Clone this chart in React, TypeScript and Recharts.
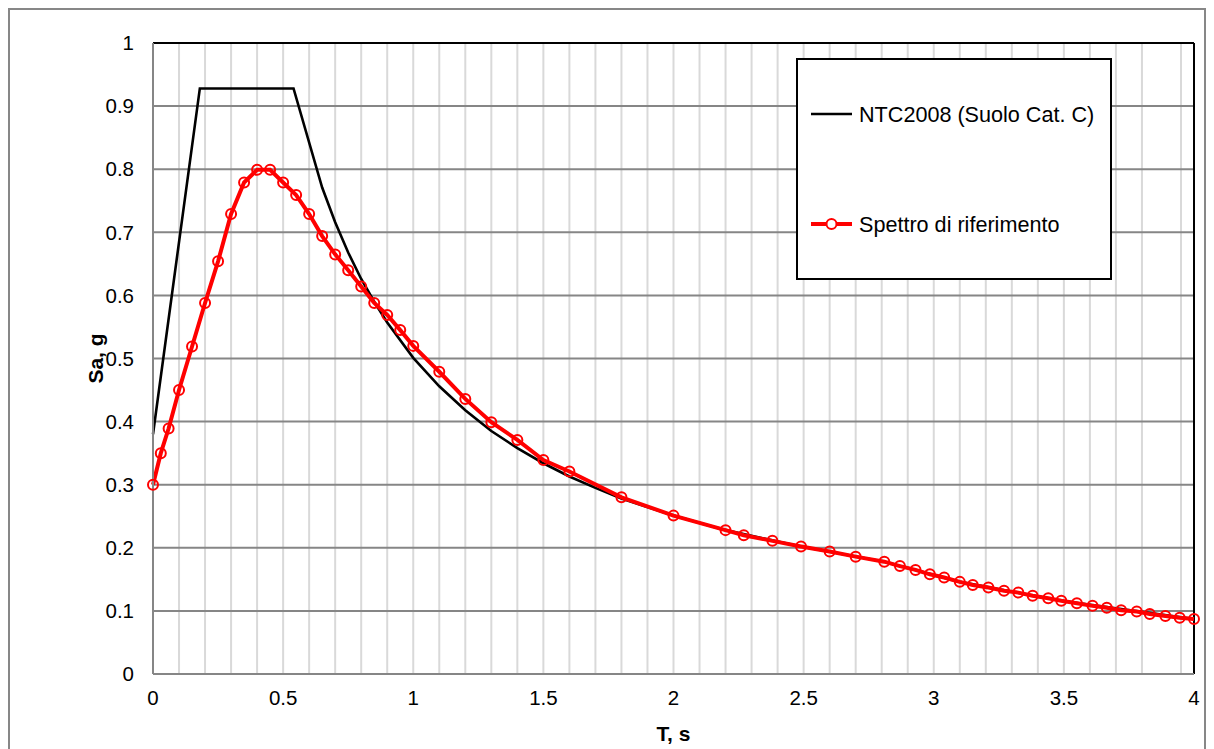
import React from 'react';
import { LineChart, Line, XAxis, YAxis, CartesianGrid, ReferenceLine, Legend, Label } from 'recharts';

const FONT = '"Liberation Sans", Arial, sans-serif';

// Reference spectrum (red, with markers)
const redT = [0, 0.03, 0.06, 0.1, 0.15, 0.2, 0.25, 0.3, 0.35, 0.4, 0.45, 0.5, 0.55, 0.6, 0.65, 0.7, 0.75, 0.8, 0.85, 0.9, 0.95, 1.0,
  1.1, 1.2, 1.3, 1.4, 1.5, 1.6, 1.8, 2.0, 2.2, 2.27, 2.38, 2.49, 2.6, 2.7, 2.81,
  2.87, 2.93, 2.985, 3.04, 3.1, 3.15, 3.21, 3.27, 3.325, 3.38, 3.44, 3.49, 3.55, 3.61, 3.665, 3.72, 3.78, 3.83, 3.89, 3.945, 4.0];
const redSa = [0.30, 0.35, 0.389, 0.45, 0.519, 0.588, 0.654, 0.729, 0.779, 0.799, 0.799, 0.779, 0.759, 0.729, 0.694, 0.665, 0.640, 0.614, 0.588, 0.569, 0.545, 0.520,
  0.479, 0.436, 0.399, 0.371, 0.339, 0.321, 0.280, 0.251, 0.228, 0.220, 0.211, 0.202, 0.194, 0.186, 0.178,
  0.171, 0.165, 0.158, 0.153, 0.146, 0.141, 0.137, 0.132, 0.129, 0.124, 0.120, 0.116, 0.112, 0.108, 0.105, 0.101, 0.099, 0.095, 0.092, 0.089, 0.087];

// NTC2008 (black)
const blackT = [0, 0.18, 0.54, 0.65, 0.7, 0.75, 0.8, 0.85, 0.9, 1.0, 1.1, 1.2, 1.3, 1.4, 1.5, 1.6, 1.7, 1.8, 2.0, 2.2, 2.49, 2.81, 3.1, 3.49, 4.0];
const blackSa = [0.38, 0.928, 0.928, 0.771, 0.716, 0.668, 0.626, 0.590, 0.557, 0.501, 0.456, 0.418, 0.385, 0.358, 0.334, 0.313, 0.295, 0.278, 0.251, 0.228, 0.202, 0.178, 0.146, 0.116, 0.087];

const xTicks = [0, 0.5, 1, 1.5, 2, 2.5, 3, 3.5, 4];
const yTicks = [0, 0.1, 0.2, 0.3, 0.4, 0.5, 0.6, 0.7, 0.8, 0.9, 1];
const minorX = [0.05, 0.1, 0.15, 0.2, 0.25, 0.3, 0.35, 0.4, 0.45, 0.5, 0.55, 0.6, 0.65, 0.7, 0.75, 0.8, 0.85, 0.9, 0.95, 1,
  1.05, 1.1, 1.15, 1.2, 1.25, 1.3, 1.35, 1.4, 1.45, 1.5, 1.55, 1.6, 1.65, 1.7, 1.75, 1.8, 1.85, 1.9, 1.95, 2,
  2.05, 2.1, 2.15, 2.2, 2.25, 2.3, 2.35, 2.4, 2.45, 2.5, 2.55, 2.6, 2.65, 2.7, 2.75, 2.8, 2.85, 2.9, 2.95, 3,
  3.05, 3.1, 3.15, 3.2, 3.25, 3.3, 3.35, 3.4, 3.45, 3.5, 3.55, 3.6, 3.65, 3.7, 3.75, 3.8, 3.85, 3.9, 3.95];

const seriesNames = ['NTC2008 (Suolo Cat. C)', 'Spettro di riferimento'];

const LegendBox = () => (
  <svg width={316} height={222} style={{ display: 'block' }}>
    <rect x={1} y={1} width={314} height={220} fill="#fff" stroke="#000" strokeWidth={2} />
    <line x1={15} x2={56} y1={56} y2={56} stroke="#000" strokeWidth={2.5} />
    <text x={63} y={56} dominantBaseline="central" fontSize={21.6} fontFamily={FONT} fill="#000">{seriesNames[0]}</text>
    <line x1={15} x2={56} y1={166} y2={166} stroke="#ff0000" strokeWidth={4} />
    <circle cx={35.5} cy={166} r={5} fill="#fff" stroke="#ff0000" strokeWidth={2} />
    <text x={63} y={166} dominantBaseline="central" fontSize={21.6} fontFamily={FONT} fill="#000">{seriesNames[1]}</text>
  </svg>
);

export default function App() {
  const redData = redT.map((t, i) => ({ t, sa: redSa[i] }));
  const blackData = blackT.map((t, i) => ({ t, sa: blackSa[i] }));
  const tickStyle = { fill: '#000', fontSize: 20.5, fontFamily: FONT };
  return (
    <div style={{ width: 1198, height: 745, border: '2px solid #878787', boxSizing: 'border-box', position: 'relative', background: '#fff' }}>
      <LineChart width={1194} height={741} margin={{ top: 33, right: 10, bottom: 0, left: 0 }}>
        <CartesianGrid horizontal={false} verticalValues={minorX} stroke="#d9d9d9" strokeWidth={2} />
        <CartesianGrid vertical={false} horizontalValues={yTicks.slice(1, 10)} stroke="#868686" strokeWidth={2} />
        <XAxis type="number" dataKey="t" domain={[0, 4]} ticks={xTicks} height={77} tickLine={false} tickSize={0} tickMargin={16}
          axisLine={{ stroke: '#868686', strokeWidth: 2 }} tick={tickStyle} allowDuplicatedCategory={false}>
          <Label content={(props: any) => {
            const vb = props.viewBox || {};
            return <text x={vb.x + vb.width / 2} y={vb.y + 59} textAnchor="middle" dominantBaseline="central" fontSize={21} fontWeight="bold" fontFamily={FONT} fill="#000">T, s</text>;
          }} />
        </XAxis>
        <YAxis type="number" domain={[0, 1]} ticks={yTicks} width={143} tickLine={false} tickSize={0} tickMargin={19}
          axisLine={{ stroke: '#868686', strokeWidth: 2 }} tick={tickStyle}>
          <Label content={(props: any) => {
            const vb = props.viewBox || {};
            const cx = 85;
            const cy = vb.y + vb.height / 2;
            return <text x={cx} y={cy} transform={`rotate(-90 ${cx} ${cy})`} textAnchor="middle" dominantBaseline="central" fontSize={21} fontWeight="bold" fontFamily={FONT} fill="#000">Sa, g</text>;
          }} />
        </YAxis>
        <ReferenceLine y={1} stroke="#000" strokeWidth={2} />
        <ReferenceLine x={4} stroke="#000" strokeWidth={2} />
        <Line data={blackData} dataKey="sa" name={seriesNames[0]} type="linear" stroke="#000" strokeWidth={2.6} dot={false} isAnimationActive={false} />
        <Line data={redData} dataKey="sa" name={seriesNames[1]} type="linear" stroke="#ff0000" strokeWidth={4}
          dot={{ r: 5, stroke: '#ff0000', strokeWidth: 2, fill: 'none' }} isAnimationActive={false} />
        <Legend layout="vertical" align="center" verticalAlign="middle" content={() => <LegendBox />}
          wrapperStyle={{ left: 786, top: 48, width: 316, height: 222 }} />
      </LineChart>
    </div>
  );
}
